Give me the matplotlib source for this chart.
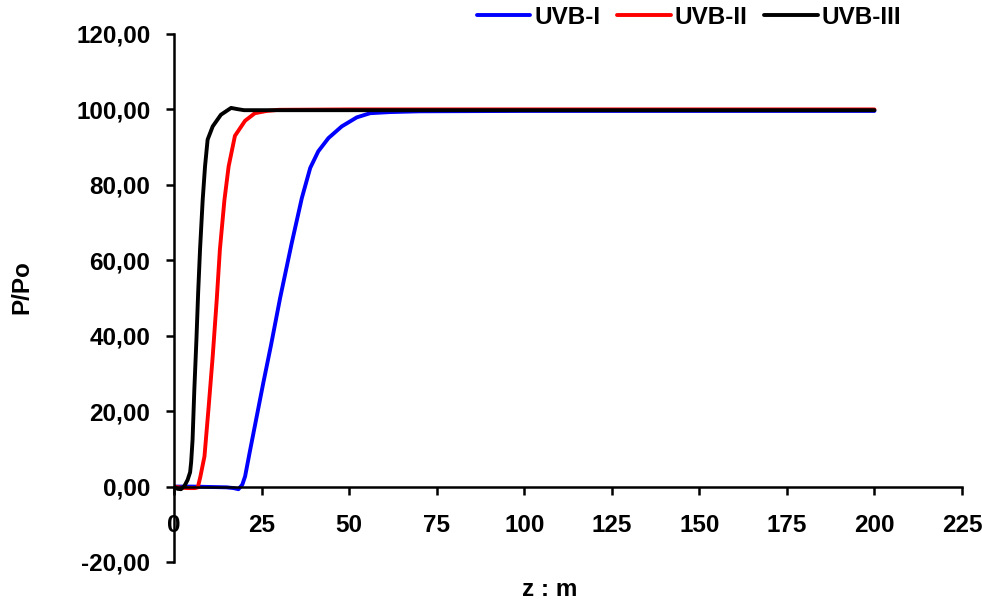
import numpy as np
import matplotlib
matplotlib.use("Agg")
import matplotlib.pyplot as plt
from matplotlib.ticker import FuncFormatter

plt.rcParams['font.family'] = ['Liberation Sans', 'DejaVu Sans']
plt.rcParams['font.weight'] = 'bold'

# UVB-I
z_1 = [0, 5, 10, 15, 17, 18.4, 19.5, 20.3, 21.7, 23.6, 25.5, 27.7, 30.3, 33.6, 36.5,
       38.9, 41.2, 44.1, 47.9, 52.2, 56.0, 61.7, 70, 100, 150, 200]
p_1 = [0, 0, -0.1, -0.2, -0.4, -0.7, 0.5, 2.7, 9.5, 18.5, 27.5, 37.5, 50.0, 64.5, 76.5,
       84.5, 88.9, 92.4, 95.5, 97.9, 99.0, 99.3, 99.5, 99.6, 99.6, 99.6]

# UVB-II
z_2 = [0, 2, 4, 6, 6.8, 7.5, 8.7, 9.9, 11.05, 12.2, 13.1, 14.4, 15.6, 17.4,
       20.3, 23.1, 26.5, 30, 50, 100, 150, 200]
p_2 = [0, -0.3, -0.4, -0.4, -0.2, 2.5, 8.0, 21.2, 34.5, 49.5, 62.8, 76.0, 84.9, 93.0,
       97.0, 99.0, 99.6, 99.9, 100.0, 100.0, 100.0, 100.0]

# UVB-III
z_3 = [0, 1.0, 2.0, 3.0, 3.9, 4.6, 4.9, 5.3, 5.8, 6.4, 6.9, 7.43, 8.19, 8.86, 9.6,
       11.05, 13.4, 16.3, 18.0, 20.0, 30, 100, 200]
p_3 = [0, -0.6, -0.7, 0.2, 1.8, 3.8, 6.5, 12.4, 25.6, 38.9, 51.5, 62.8, 76.0, 84.9, 92.0,
       95.5, 98.6, 100.4, 100.1, 99.8, 99.8, 99.8, 99.8]

series_names = ['UVB-I', 'UVB-II', 'UVB-III']
series_colors = ['#0000ff', '#ff0000', '#000000']

x_ticks = [0, 25, 50, 75, 100, 125, 150, 175, 200, 225]
y_ticks = [-20, 0, 20, 40, 60, 80, 100, 120]

fs = 17.5

fig = plt.figure(figsize=(9.82, 6.01), dpi=100)
ax = fig.add_axes([174 / 982, 1 - 562 / 601, (962 - 174) / 982, (562 - 34) / 601])

for z, p, name, c in zip([z_1, z_2, z_3], [p_1, p_2, p_3], series_names, series_colors):
    ax.plot(z, p, color=c, lw=2.8, label=name, solid_capstyle='round',
            solid_joinstyle='round')

ax.set_xlim(0, 225)
ax.set_ylim(-20, 120)
ax.set_xticks(x_ticks)
ax.set_yticks(y_ticks)
ax.yaxis.set_major_formatter(FuncFormatter(lambda v, pos: ('%.2f' % v).replace('.', ',')))

ax.spines['top'].set_visible(False)
ax.spines['right'].set_visible(False)
ax.spines['bottom'].set_position(('data', 0))
for s in ['left', 'bottom']:
    ax.spines[s].set_linewidth(1.8)
ax.tick_params(axis='both', direction='out', length=6, width=1.8, labelsize=fs)
ax.tick_params(axis='x', pad=14)
ax.tick_params(axis='y', pad=11)
for lab in ax.get_xticklabels() + ax.get_yticklabels():
    lab.set_fontweight('bold')

fig.text(22 / 982, 1 - 287 / 601, 'P/Po', rotation=90, ha='center', va='center',
         fontsize=fs, fontweight='bold')
fig.text(550 / 982, 1 - 589 / 601, 'z : m', ha='center', va='center',
         fontsize=fs, fontweight='bold')

leg = ax.legend(loc='upper left', bbox_to_anchor=(477 / 982, 1 - 6 / 601),
                bbox_transform=fig.transFigure, ncol=3, frameon=False,
                borderpad=0, borderaxespad=0, handlelength=2.2, handletextpad=0.15,
                columnspacing=0.7, prop={'size': fs, 'weight': 'bold'})

fig.savefig('out.png', dpi=100)
